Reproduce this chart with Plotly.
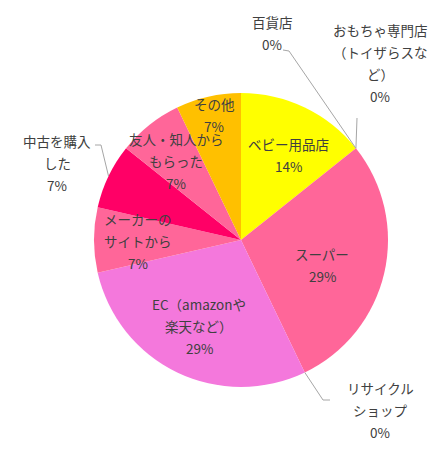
import math

import plotly.graph_objects as go

# Purchase place survey (counts, total 14)
categories = [
    "ベビー用品店",
    "おもちゃ専門店（トイザらスなど）",
    "百貨店",
    "スーパー",
    "リサイクルショップ",
    "EC（amazonや楽天など）",
    "メーカーのサイトから",
    "中古を購入した",
    "友人・知人からもらった",
    "その他",
]
values = [2, 0, 0, 4, 0, 4, 1, 1, 1, 1]
label_lines = [
    ["ベビー用品店"],
    ["おもちゃ専門店", "（トイザらスな", "ど）"],
    ["百貨店"],
    ["スーパー"],
    ["リサイクル", "ショップ"],
    ["EC（amazonや", "楽天など）"],
    ["メーカーの", "サイトから"],
    ["中古を購入", "した"],
    ["友人・知人から", "もらった"],
    ["その他"],
]
colors = [
    "#FFFF00", "#FF9900", "#A5A5A5", "#FF6699", "#70AD47",
    "#F478DC", "#FF6699", "#FF0066", "#FF6699", "#FFC000",
]

W, H = 446, 453
OFF = 8  # page body margin in the browser
CX, CY, R = 241, 240, 147  # pie centre / radius in window pixels
LINE_H = 22

# label block centres (window pixels) -- layout only
label_pos = [
    (288, 155), (380, 63), (272, 33), (322, 265), (380, 410),
    (199, 326), (138, 241), (57, 163), (176, 161), (214, 115),
]
# label-side end of leader lines (window pixels); None = no leader line
leader_end = [
    None, [(357, 118)], [(289, 51), (283, 50)], None, [(323, 400), (330, 400)],
    None, None, [(101, 145), (95, 145)], None, None,
]


def px_to_paper(x, y):
    return (x - OFF) / W, 1 - (y - OFF) / H


total = sum(values)

fig = go.Figure(
    go.Pie(
        labels=categories,
        values=values,
        sort=False,
        direction="clockwise",
        rotation=0,
        marker=dict(colors=colors, line=dict(width=0)),
        textinfo="none",
        hoverinfo="label+percent",
        showlegend=False,
        domain=dict(
            x=[(CX - OFF - R) / W, (CX - OFF + R) / W],
            y=[(H - (CY - OFF) - R) / H, (H - (CY - OFF) + R) / H],
        ),
    )
)

annotations = []
shapes = []
cum = 0
for i, v in enumerate(values):
    lines = label_lines[i] + [f"{round(v / total * 100)}%"]
    bx, by = label_pos[i]
    y0 = by - (len(lines) - 1) * LINE_H / 2
    for k, txt in enumerate(lines):
        px, py = px_to_paper(bx, y0 + k * LINE_H)
        annotations.append(
            dict(
                x=px, y=py, xref="paper", yref="paper",
                text=txt, showarrow=False,
                xanchor="center", yanchor="middle",
                font=dict(size=13.5, color="#404040",
                          family="Noto Sans CJK JP, sans-serif"),
            )
        )
    # leader line: from the slice edge (middle of slice) to the label
    if leader_end[i] is not None:
        ang = math.radians((cum + v / 2) / total * 360)
        ex = CX + R * math.sin(ang)
        ey = CY - R * math.cos(ang)
        pts = [(ex, ey)] + leader_end[i]
        path = ""
        for j, (x, y) in enumerate(pts):
            px, py = px_to_paper(x, y)
            path += ("M" if j == 0 else " L") + f" {px} {py}"
        shapes.append(
            dict(type="path", path=path, xref="paper", yref="paper",
                 line=dict(color="#A6A6A6", width=1))
        )
    cum += v

fig.update_layout(
    width=W,
    height=H,
    margin=dict(l=0, r=0, t=0, b=0),
    paper_bgcolor="white",
    plot_bgcolor="white",
    annotations=annotations,
    shapes=shapes,
)

fig.write_html("out.html")
